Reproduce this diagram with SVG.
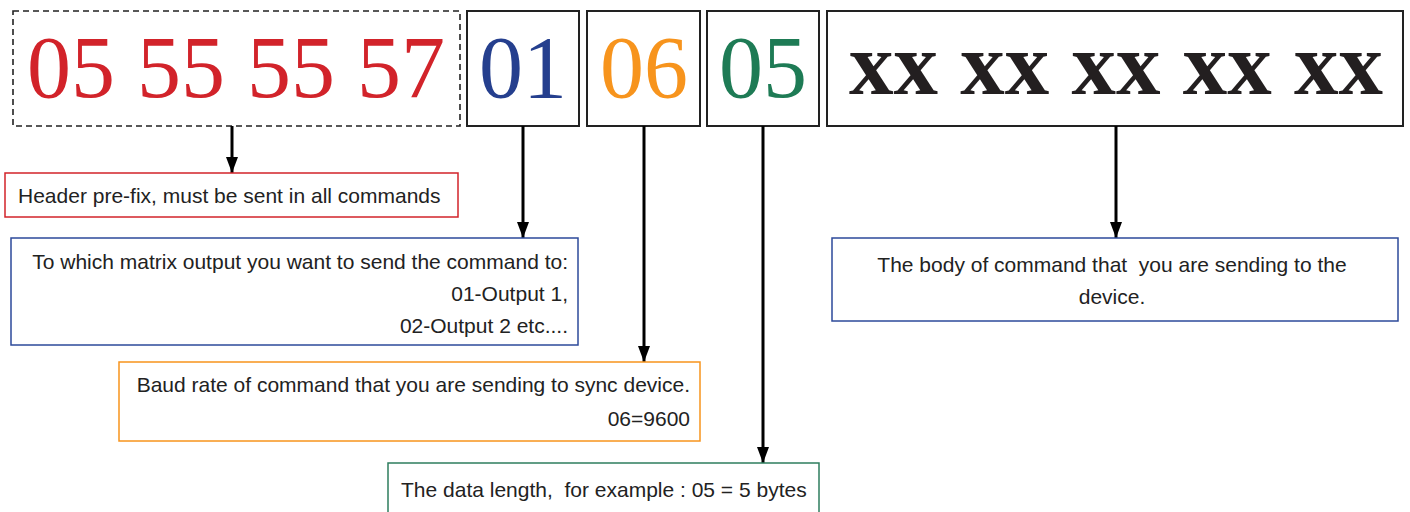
<svg xmlns="http://www.w3.org/2000/svg" width="1410" height="512" viewBox="0 0 1410 512">
<defs>
<marker id="ah" markerWidth="16" markerHeight="12" refX="16" refY="6" orient="auto" markerUnits="userSpaceOnUse" viewBox="0 0 16 12">
<path d="M0,0 L16,6 L0,12 Z" fill="#000"/>
</marker>
<style>
.top{fill:#fff;stroke:#222;stroke-width:2}
.dash{fill:#fff;stroke:#222;stroke-width:1.6;stroke-dasharray:6 4}
.big{font-family:"Liberation Serif","Times New Roman",serif;font-size:88px;text-anchor:middle}
.xx{font-family:"Liberation Serif","Times New Roman",serif;font-size:89px;font-weight:bold;text-anchor:middle;fill:#231f20}
.lbl{font-family:"Liberation Sans",Arial,Helvetica,sans-serif;font-size:21px;fill:#222;white-space:pre}
.box{fill:#fff;stroke-width:1.5}
.conn line{stroke:#000;stroke-width:3}
</style>
</defs>
<rect width="1410" height="512" fill="#fff"/>

<g id="header">
<rect class="dash" x="13" y="11" width="447" height="115"/>
<text class="big" x="236" y="97" fill="#d2232a">05 55 55 57</text>
</g>
<g id="output">
<rect class="top" x="467" y="11" width="112" height="115"/>
<text class="big" x="523" y="97" fill="#253f8e">01</text>
</g>
<g id="baud">
<rect class="top" x="587" y="11" width="113" height="115"/>
<text class="big" x="644" y="97" fill="#f7941d">06</text>
</g>
<g id="length">
<rect class="top" x="707" y="11" width="112" height="115"/>
<text class="big" x="763" y="97" fill="#1e7b55">05</text>
</g>
<g id="body">
<rect class="top" x="827" y="11" width="576" height="115"/>
<text class="xx" x="1116" y="94">xx xx xx xx xx</text>
</g>

<g id="connectors" class="conn">
<line x1="232" y1="126" x2="232" y2="173" marker-end="url(#ah)"/>
<line x1="523" y1="126" x2="523" y2="238" marker-end="url(#ah)"/>
<line x1="644" y1="126" x2="644" y2="362" marker-end="url(#ah)"/>
<line x1="763" y1="126" x2="763" y2="463" marker-end="url(#ah)"/>
<line x1="1116" y1="126" x2="1116" y2="238" marker-end="url(#ah)"/>
</g>

<g id="note-header">
<rect class="box" x="5" y="173" width="453" height="44" stroke="#d2232a"/>
<text class="lbl" x="18" y="203">Header pre-fix, must be sent in all commands</text>
</g>
<g id="note-output">
<rect class="box" x="11" y="238" width="567" height="107" stroke="#2d4a9a"/>
<text class="lbl" x="568" y="269" text-anchor="end">To which matrix output you want to send the command to:</text>
<text class="lbl" x="568" y="301" text-anchor="end">01-Output 1,</text>
<text class="lbl" x="568" y="333" text-anchor="end">02-Output 2 etc....</text>
</g>
<g id="note-baud">
<rect class="box" x="119" y="362" width="581" height="79" stroke="#f7941d"/>
<text class="lbl" x="690" y="392" text-anchor="end">Baud rate of command that you are sending to sync device.</text>
<text class="lbl" x="690" y="426" text-anchor="end">06=9600</text>
</g>
<g id="note-length">
<rect class="box" x="388" y="463" width="431" height="60" stroke="#2e7d5e"/>
<text class="lbl" x="401" y="497">The data length,  for example : 05 = 5 bytes</text>
</g>
<g id="note-body">
<rect class="box" x="832" y="238" width="566" height="83" stroke="#2d4a9a"/>
<text class="lbl" x="1112" y="272" text-anchor="middle">The body of command that  you are sending to the</text>
<text class="lbl" x="1112" y="304" text-anchor="middle">device.</text>
</g>
</svg>
